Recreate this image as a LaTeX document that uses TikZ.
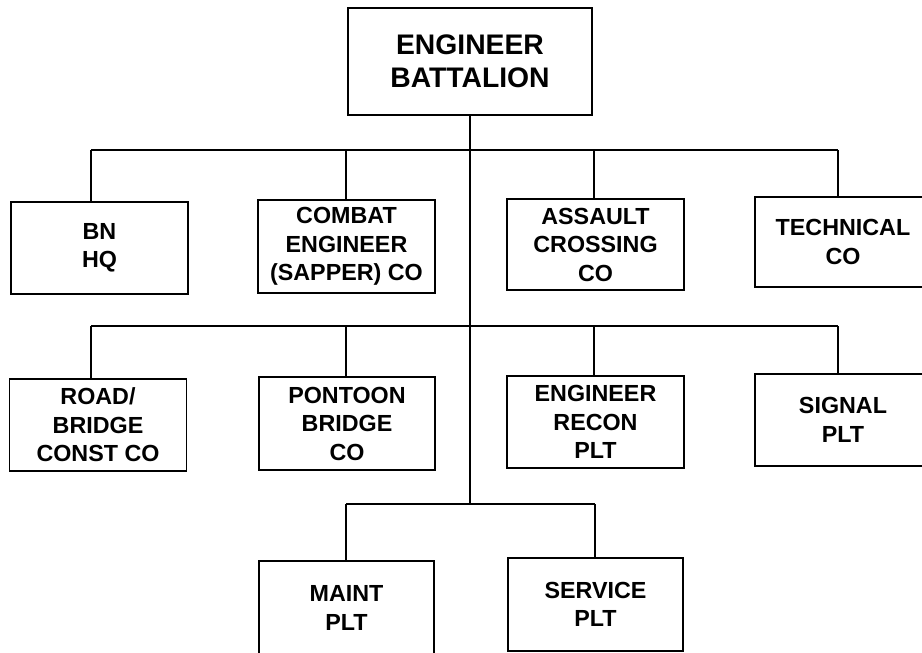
\documentclass[tikz,border=0pt]{standalone}
\usepackage{fontspec}
\setmainfont{Liberation Sans}
\begin{document}
\begin{tikzpicture}[x=1pt,y=-1pt,
  unitbox/.style={draw=black, line width=1.8pt, inner sep=0pt, align=center,
    font=\bfseries\fontsize{23.3}{28.5}\selectfont},
  topbox/.style={unitbox, font=\bfseries\fontsize{28.3}{33}\selectfont},
  wire/.style={draw=black, line width=1.8pt}]
\useasboundingbox (0,0) rectangle (922,653);
\clip (0,0) rectangle (922,653);
% top
\node[topbox, minimum width=244pt, minimum height=107pt] (bat) at (470,61.5) {ENGINEER\\BATTALION};
% row 1
\node[unitbox, minimum width=177pt, minimum height=92pt] (bn) at (99.5,248) {BN\\HQ};
\node[unitbox, minimum width=177pt, minimum height=93pt] (cbt) at (346.5,246.5) {COMBAT\\ENGINEER\\(SAPPER) CO};
\node[unitbox, minimum width=177pt, minimum height=91pt] (asl) at (595.5,244.5) {ASSAULT\\CROSSING\\CO};
\node[unitbox, minimum width=176pt, minimum height=90pt] (tec) at (843,242) {TECHNICAL\\CO};
% row 2
\node[unitbox, minimum width=177pt, minimum height=92pt] (road) at (98,425) {ROAD/\\BRIDGE\\CONST CO};
\node[unitbox, minimum width=176pt, minimum height=93pt] (pon) at (347,423.5) {PONTOON\\BRIDGE\\CO};
\node[unitbox, minimum width=177pt, minimum height=92pt] (rec) at (595.5,422) {ENGINEER\\RECON\\PLT};
\node[unitbox, minimum width=176pt, minimum height=92pt] (sig) at (843,420) {SIGNAL\\PLT};
% row 3
\node[unitbox, minimum width=175pt, minimum height=94pt] (mnt) at (346.5,608) {MAINT\\PLT};
\node[unitbox, minimum width=175pt, minimum height=93pt] (svc) at (595.5,604.5) {SERVICE\\PLT};
% bus coordinates
\coordinate (a1) at (91,150);  \coordinate (a2) at (346,150);
\coordinate (a3) at (594,150); \coordinate (a4) at (838,150);
\coordinate (b1) at (91,326);  \coordinate (b2) at (346,326);
\coordinate (b3) at (594,326); \coordinate (b4) at (838,326);
\coordinate (c1) at (346,504); \coordinate (c2) at (595,504);
\coordinate (cm) at (470,504);
% connectors
\draw[wire] (bat.south) -- (cm);
\draw[wire] (a1) -- (a4);
\draw[wire] (b1) -- (b4);
\draw[wire] (c1) -- (c2);
\draw[wire] (a1) -- (a1 |- bn.north);
\draw[wire] (a2) -- (a2 |- cbt.north);
\draw[wire] (a3) -- (a3 |- asl.north);
\draw[wire] (a4) -- (a4 |- tec.north);
\draw[wire] (b1) -- (b1 |- road.north);
\draw[wire] (b2) -- (b2 |- pon.north);
\draw[wire] (b3) -- (b3 |- rec.north);
\draw[wire] (b4) -- (b4 |- sig.north);
\draw[wire] (c1) -- (c1 |- mnt.north);
\draw[wire] (c2) -- (c2 |- svc.north);
\end{tikzpicture}
\end{document}
